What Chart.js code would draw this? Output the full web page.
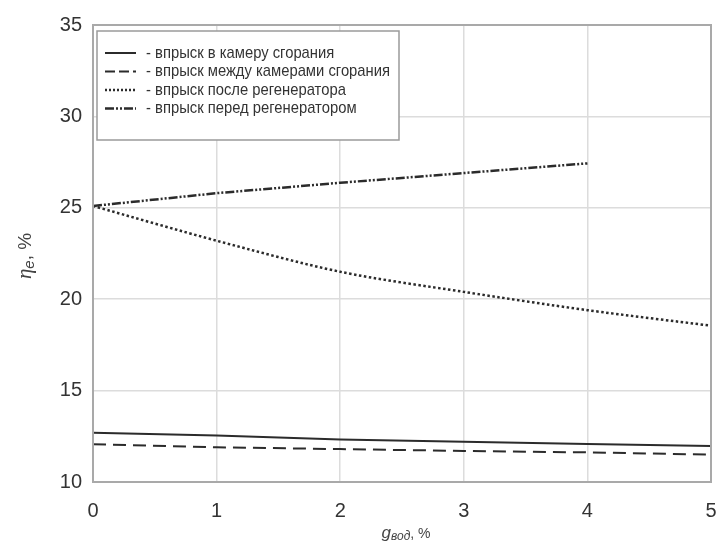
<!DOCTYPE html>
<html>
<head>
<meta charset="utf-8">
<script src="https://cdn.jsdelivr.net/npm/chart.js@4.4.1/dist/chart.umd.min.js"></script>
<style>
  html, body { margin: 0; padding: 0; background: #fff; }
  #wrap { width: 717px; height: 547px; }
</style>
</head>
<body>
<div id="wrap"><canvas id="effChart" width="717" height="547"></canvas></div>
<script>
// g_вод, %
const xFull = [0, 1, 2, 3, 4, 5];
const xShort = [0, 1, 2, 3, 4];

// eta_e, %
const combustionChamber = [12.7, 12.55, 12.33, 12.2, 12.08, 11.97];
const betweenChambers = [12.07, 11.9, 11.8, 11.7, 11.62, 11.5];
const afterRegenerator = [25.1, 23.2, 21.5, 20.4, 19.4, 18.55];
const beforeRegenerator = [25.1, 25.8, 26.37, 26.9, 27.43];

const seriesLabels = [
  "- впрыск в камеру сгорания",
  "- впрыск между камерами сгорания",
  "- впрыск после регенератора",
  "- впрыск перед регенератором"
];

const xTicks = [0, 1, 2, 3, 4, 5];
const yTicks = [10, 15, 20, 25, 30, 35];

const lineColor = "#2b2b2b";
const tickFont = { family: "'Liberation Sans', Arial, sans-serif", size: 20 };

function pts(xs, ys) {
  return xs.map((x, i) => ({ x: x, y: ys[i] }));
}

// frame around plot + custom legend + axis titles with subscripts
const decorPlugin = {
  id: "decor",
  afterDraw(chart) {
    const ctx = chart.ctx;
    const a = chart.chartArea;
    ctx.save();
    ctx.strokeStyle = "#a9a9a9";
    ctx.lineWidth = 2;
    ctx.strokeRect(a.left, a.top, a.right - a.left, a.bottom - a.top);

    // legend box
    const lx = 97, ly = 31, lw = 302, lh = 109;
    ctx.fillStyle = "#fff";
    ctx.fillRect(lx, ly, lw, lh);
    ctx.strokeStyle = "#9a9a9a";
    ctx.lineWidth = 1.5;
    ctx.strokeRect(lx, ly, lw, lh);
    ctx.font = "17px 'Liberation Sans', Arial, sans-serif";
    ctx.textBaseline = "middle";
    let longest = 0;
    seriesLabels.forEach(t => { longest = Math.max(longest, ctx.measureText(t).width); });
    const squeeze = Math.min(1, 244 / longest);
    chart.data.datasets.forEach((ds, i) => {
      const y = 53 + i * 18.5;
      ctx.beginPath();
      ctx.setLineDash(ds.legendDash || []);
      ctx.strokeStyle = lineColor;
      ctx.lineWidth = ds.borderWidth;
      ctx.moveTo(105, y);
      ctx.lineTo(136, y);
      ctx.stroke();
      ctx.setLineDash([]);
      ctx.fillStyle = "#333";
      ctx.save();
      ctx.translate(146, y);
      ctx.scale(squeeze, 1);
      ctx.fillText(seriesLabels[i], 0, 0);
      ctx.restore();
    });

    // x title: g_вод, %
    ctx.fillStyle = "#444";
    ctx.textBaseline = "alphabetic";
    const cx = (a.left + a.right) / 2;
    ctx.font = "italic 17px 'Liberation Sans', Arial, sans-serif";
    const gW = ctx.measureText("g").width;
    ctx.font = "italic 12px 'Liberation Sans', Arial, sans-serif";
    const subW = ctx.measureText("вод").width;
    ctx.font = "14px 'Liberation Sans', Arial, sans-serif";
    const restW = ctx.measureText(", %").width;
    let tx = cx - (gW + subW + restW) / 2 + 4;
    const ty = 538;
    ctx.font = "italic 17px 'Liberation Sans', Arial, sans-serif";
    ctx.fillText("g", tx, ty);
    tx += gW;
    ctx.font = "italic 12px 'Liberation Sans', Arial, sans-serif";
    ctx.fillText("вод", tx, ty + 2);
    tx += subW;
    ctx.font = "14px 'Liberation Sans', Arial, sans-serif";
    ctx.fillText(", %", tx, ty);

    // y title: eta_e, %
    ctx.translate(31, 256);
    ctx.rotate(-Math.PI / 2);
    ctx.font = "italic 21px 'Liberation Serif', serif";
    const eW = ctx.measureText("η").width;
    ctx.font = "italic 15px 'Liberation Sans', Arial, sans-serif";
    const eSub = ctx.measureText("e").width;
    ctx.font = "19px 'Liberation Sans', Arial, sans-serif";
    const pW = ctx.measureText(", %").width;
    let yx = -(eW + eSub + pW) / 2;
    ctx.font = "italic 21px 'Liberation Serif', serif";
    ctx.fillText("η", yx, 0);
    yx += eW;
    ctx.font = "italic 15px 'Liberation Sans', Arial, sans-serif";
    ctx.fillText("e", yx, 3);
    yx += eSub;
    ctx.font = "19px 'Liberation Sans', Arial, sans-serif";
    ctx.fillText(", %", yx, 0);
    ctx.restore();
  }
};

new Chart(document.getElementById("effChart"), {
  type: "line",
  data: {
    datasets: [
      {
        label: seriesLabels[0],
        data: pts(xFull, combustionChamber),
        borderColor: lineColor,
        borderWidth: 2,
        pointRadius: 0,
        tension: 0
      },
      {
        label: seriesLabels[1],
        data: pts(xFull, betweenChambers),
        borderColor: lineColor,
        borderWidth: 2,
        borderDash: [13, 7],
        legendDash: [10, 4],
        pointRadius: 0,
        tension: 0
      },
      {
        label: seriesLabels[2],
        data: pts(xFull, afterRegenerator),
        borderColor: lineColor,
        borderWidth: 2.5,
        borderDash: [2.5, 2.5],
        legendDash: [2, 2],
        pointRadius: 0,
        tension: 0.3
      },
      {
        label: seriesLabels[3],
        data: pts(xShort, beforeRegenerator),
        borderColor: lineColor,
        borderWidth: 2.5,
        borderDash: [9, 2, 2, 2, 2, 2],
        legendDash: [9, 2, 2, 2, 2, 2],
        pointRadius: 0,
        tension: 0
      }
    ]
  },
  options: {
    responsive: false,
    animation: false,
    layout: { padding: { left: 0, right: 6, top: 25, bottom: 0 } },
    plugins: {
      legend: { display: false },
      tooltip: { enabled: false }
    },
    scales: {
      x: {
        type: "linear",
        min: 0,
        max: 5,
        afterFit: (s) => { s.height = 65; s.paddingLeft = 0; s.paddingRight = 0; },
        afterBuildTicks: (s) => { s.ticks = xTicks.map(v => ({ value: v })); },
        grid: { color: "#dcdcdc", lineWidth: 1.5, drawTicks: false },
        border: { display: false },
        ticks: { color: "#333", font: tickFont, padding: 17 }
      },
      y: {
        min: 10,
        max: 35,
        afterFit: (s) => { s.width = 93; },
        afterBuildTicks: (s) => { s.ticks = yTicks.map(v => ({ value: v })); },
        grid: { color: "#dcdcdc", lineWidth: 1.5, drawTicks: false },
        border: { display: false },
        ticks: { color: "#333", font: tickFont, padding: 11 }
      }
    }
  },
  plugins: [decorPlugin]
});
</script>
</body>
</html>
